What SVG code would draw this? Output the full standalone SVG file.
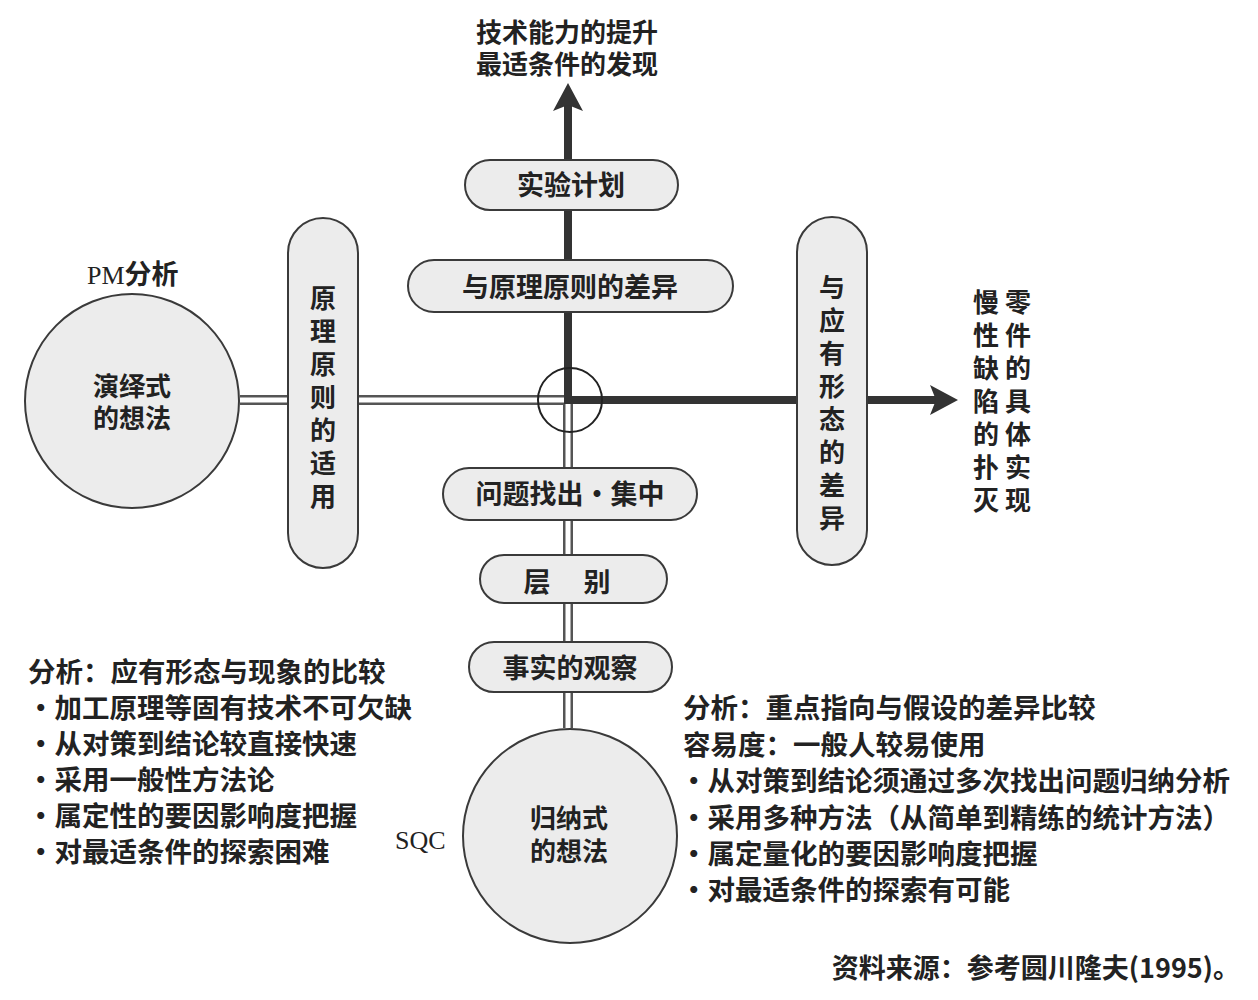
<svg xmlns="http://www.w3.org/2000/svg" width="1258" height="1000" viewBox="0 0 1258 1000">
<style>
.t{font-family:"Noto Sans CJK SC","Noto Sans",sans-serif;font-size:27px;font-weight:bold;fill:#222}
.n{font-size:27.5px}
.k{font-size:26px}
.s{font-family:"Liberation Serif","Noto Sans CJK SC",serif;font-size:26px;fill:#222}
.c{text-anchor:middle}
.node{fill:#ececec;stroke:#3a3a3a;stroke-width:2}
.dbo{fill:none;stroke:#555;stroke-width:10}
.dbi{fill:none;stroke:#fff;stroke-width:5}
.thick{fill:none;stroke:#333;stroke-width:8;stroke-linecap:square}
</style>
<defs>
<marker id="ah" markerUnits="userSpaceOnUse" markerWidth="30" markerHeight="32" refX="6" refY="15" orient="auto" viewBox="0 0 30 32">
<path d="M0,0 L28,15 L0,30 L6,15 Z" fill="#333"/>
</marker>
</defs>
<rect width="1258" height="1000" fill="#fff"/>

<g id="connectors">
<path class="dbo" d="M240,400 H568 M568,400 V728"/>
<path class="dbi" d="M238,400 H568 M568,400 V730"/>
<path class="thick" d="M568,400 V105" marker-end="url(#ah)"/>
<path class="thick" d="M568,400 H936" marker-end="url(#ah)"/>
<circle cx="570" cy="400" r="32" fill="none" stroke="#222" stroke-width="2"/>
</g>

<g id="top-label">
<text class="t k c" x="567" y="42">技术能力的提升</text>
<text class="t k c" x="567" y="74">最适条件的发现</text>
</g>

<g id="node-experiment">
<rect class="node" x="465" y="160" width="213" height="50" rx="25"/>
<text class="t c" x="571" y="195">实验计划</text>
</g>

<g id="node-diff-principle">
<rect class="node" x="408" y="260" width="325" height="52" rx="26"/>
<text class="t c" x="570" y="297">与原理原则的差异</text>
</g>

<g id="node-deductive">
<text x="87" y="284"><tspan class="s">PM</tspan><tspan class="t" font-size="26">分析</tspan></text>
<circle class="node" cx="132" cy="401" r="107"/>
<text class="t k c" x="132" y="396">演绎式</text>
<text class="t k c" x="132" y="428">的想法</text>
</g>

<g id="node-apply-principle">
<rect class="node" x="288" y="218" width="70" height="350" rx="35"/>
<text class="t k c"><tspan x="323" y="308">原</tspan><tspan x="323" y="341">理</tspan><tspan x="323" y="374">原</tspan><tspan x="323" y="407">则</tspan><tspan x="323" y="440">的</tspan><tspan x="323" y="473">适</tspan><tspan x="323" y="506">用</tspan></text>
</g>

<g id="node-diff-ideal">
<rect class="node" x="797" y="217" width="70" height="348" rx="35"/>
<text class="t k c"><tspan x="832" y="297">与</tspan><tspan x="832" y="330">应</tspan><tspan x="832" y="363">有</tspan><tspan x="832" y="396">形</tspan><tspan x="832" y="429">态</tspan><tspan x="832" y="462">的</tspan><tspan x="832" y="495">差</tspan><tspan x="832" y="528">异</tspan></text>
</g>

<g id="right-label">
<text class="t k c"><tspan x="1018" y="312">零</tspan><tspan x="1018" y="345">件</tspan><tspan x="1018" y="378">的</tspan><tspan x="1018" y="411">具</tspan><tspan x="1018" y="444">体</tspan><tspan x="1018" y="477">实</tspan><tspan x="1018" y="510">现</tspan></text>
<text class="t k c"><tspan x="986" y="312">慢</tspan><tspan x="986" y="345">性</tspan><tspan x="986" y="378">缺</tspan><tspan x="986" y="411">陷</tspan><tspan x="986" y="444">的</tspan><tspan x="986" y="477">扑</tspan><tspan x="986" y="510">灭</tspan></text>
</g>

<g id="node-problem">
<rect class="node" x="443" y="468" width="254" height="52" rx="26"/>
<text class="t c" x="570" y="504">问题找出・集中</text>
</g>

<g id="node-stratify">
<rect class="node" x="480" y="555" width="187" height="48" rx="24"/>
<text class="t c" y="592"><tspan x="537">层</tspan><tspan x="597">别</tspan></text>
</g>

<g id="node-observe">
<rect class="node" x="469" y="642" width="203" height="50" rx="25"/>
<text class="t c" x="570" y="678">事实的观察</text>
</g>

<g id="node-inductive">
<circle class="node" cx="570" cy="836" r="107"/>
<text class="t k c" x="569" y="828">归纳式</text>
<text class="t k c" x="569" y="861">的想法</text>
<text class="s" x="395" y="849">SQC</text>
</g>

<g id="left-notes">
<text class="t n" x="28" y="682">分析：应有形态与现象的比较</text>
<text class="t n" x="27" y="718">・加工原理等固有技术不可欠缺</text>
<text class="t n" x="27" y="754">・从对策到结论较直接快速</text>
<text class="t n" x="27" y="790">・采用一般性方法论</text>
<text class="t n" x="27" y="826">・属定性的要因影响度把握</text>
<text class="t n" x="27" y="862">・对最适条件的探索困难</text>
</g>

<g id="right-notes">
<text class="t n" x="683" y="718">分析：重点指向与假设的差异比较</text>
<text class="t n" x="683" y="755">容易度：一般人较易使用</text>
<text class="t n" x="680" y="791">・从对策到结论须通过多次找出问题归纳分析</text>
<text class="t n" x="680" y="828">・采用多种方法（从简单到精练的统计方法）</text>
<text class="t n" x="680" y="864">・属定量化的要因影响度把握</text>
<text class="t n" x="680" y="900">・对最适条件的探索有可能</text>
</g>

<g id="source">
<text class="t" x="1240" y="978" text-anchor="end">资料来源：参考圆川隆夫(1995)。</text>
</g>
</svg>
